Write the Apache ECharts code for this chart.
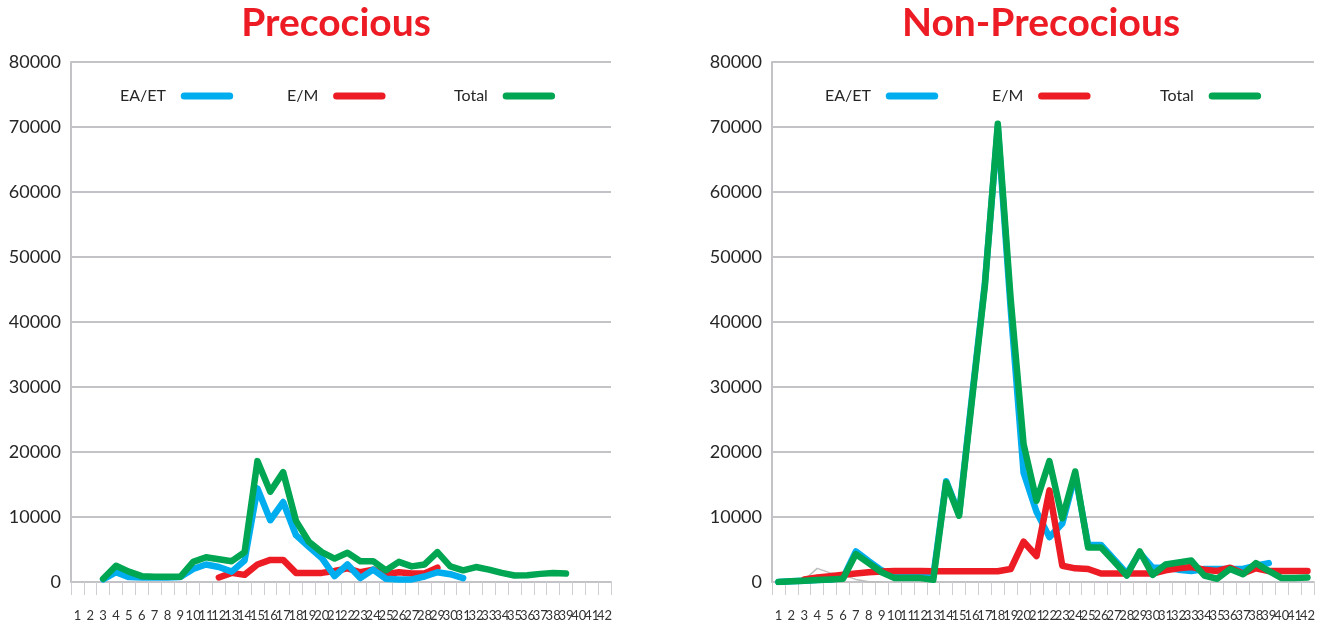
<!DOCTYPE html>
<html>
<head>
<meta charset="utf-8">
<script src="https://cdn.jsdelivr.net/npm/echarts@6/dist/echarts.min.js"></script>
<style>
html,body{margin:0;padding:0;background:#fff;}
#c{width:1318px;height:627px;}
</style>
</head>
<body>
<div id="c"></div>
<script>
const categories = ['1','2','3','4','5','6','7','8','9','10','11','12','13','14','15','16','17','18','19','20','21','22','23','24','25','26','27','28','29','30','31','32','33','34','35','36','37','38','39','40','41','42'];
const yTicks = [0,10000,20000,30000,40000,50000,60000,70000,80000];
const titles = ['Precocious','Non-Precocious'];
const seriesNames = ['EA/ET','E/M','Total'];

// Precocious
const preEAET = [null,null,400,1500,750,700,700,700,750,2000,2700,2300,1600,3300,14400,9500,12300,7200,5400,3700,900,2700,600,1900,500,400,400,850,1500,1200,600,null,null,null,null,null,null,null,null,null,null,null];
const preEM = [null,null,null,null,null,null,null,null,null,null,null,700,1400,1100,2700,3400,3400,1400,1400,1400,1700,2100,1500,1900,1200,1500,1300,1300,2200,null,null,null,null,null,null,null,null,null,null,null,null,null];
const preTotal = [null,null,500,2500,1600,900,800,800,800,3100,3800,3500,3200,4600,18600,13900,16900,9400,6200,4600,3600,4500,3200,3200,1800,3100,2400,2700,4600,2400,1800,2300,1900,1400,1000,1050,1250,1400,1300,null,null,null];

// Non-Precocious
const nonEAET = [0,100,200,300,400,600,4700,3200,1800,900,1000,1100,900,15500,10500,28500,46000,70000,42000,16800,10800,6900,9000,16500,5700,5700,3500,1300,4500,2200,2200,1900,1700,2000,2000,2000,2000,2500,2900,null,null,null];
const nonEM = [null,null,400,700,900,1100,1300,1500,1600,1700,1700,1700,1650,1650,1650,1650,1650,1650,2000,6200,4000,14100,2500,2100,2000,1300,1300,1300,1300,1300,1800,2100,2300,1900,1700,2200,1300,2100,1700,1700,1700,1700];
const nonTotal = [0,100,200,300,400,500,4300,2900,1500,600,600,600,350,15300,10200,28000,45600,70500,43500,21200,12500,18600,9800,17000,5300,5300,3200,1000,4700,1100,2700,3000,3300,1000,500,2000,1200,2900,1700,600,600,700];
const nonOther = [null,null,300,2100,1400,1100,400,50,50,null,null,null,null,null,null,null,null,null,null,null,null,null,null,null,null,null,null,null,null,null,null,null,null,null,null,null,null,null,null,null,null,null];

const BLUE = '#00AEEF', RED = '#ED1C24', GREEN = '#00A651', GRID = '#c3c3c7';
const FONT = 'Lato, "Open Sans", sans-serif';

const chart = echarts.init(document.getElementById('c'), null, {renderer: 'canvas'});

function xAxis(gi) {
  return {
    type: 'category', gridIndex: gi, data: categories, boundaryGap: true,
    axisLine: {show: true, lineStyle: {color: GRID, width: 2}},
    axisTick: {show: true, length: 13, alignWithLabel: false, lineStyle: {color: '#cfcfd3', width: 1}},
    axisLabel: {interval: 0, fontSize: 13, color: '#333', fontFamily: FONT, margin: 27, hideOverlap: false},
    splitLine: {show: false}
  };
}
function yAxis(gi) {
  return {
    type: 'value', gridIndex: gi, min: yTicks[0], max: yTicks[yTicks.length - 1], interval: yTicks[1] - yTicks[0],
    axisLine: {show: true, lineStyle: {color: GRID, width: 2}},
    axisTick: {show: false},
    axisLabel: {fontSize: 18, color: '#262626', fontFamily: FONT, margin: 10, formatter: function (v) { return String(v); }},
    splitLine: {show: true, lineStyle: {color: GRID, width: 2}}
  };
}
function line(name, data, color, gi, width) {
  return {
    name: name, type: 'line', xAxisIndex: gi, yAxisIndex: gi, data: data,
    showSymbol: false, symbol: 'none', smooth: false, silent: true,
    lineStyle: {color: color, width: width, cap: 'round', join: 'round'},
    itemStyle: {color: color}
  };
}
const pill = 'path://M4,0H56A4,4,0,0,1,56,8H4A4,4,0,0,1,4,0Z';
function legend(name, left, top) {
  return {
    data: [name], left: left, top: top, align: 'right', icon: pill,
    itemWidth: 60, itemHeight: 7, selectedMode: false,
    textStyle: {fontSize: 16, color: '#262626', fontFamily: FONT, padding: [0, 6, 5, 0]}
  };
}

chart.setOption({
  animation: false,
  backgroundColor: '#fff',
  graphic: [
    {type: 'text', x: 336, y: 23, style: {text: titles[0], fill: RED, font: 'bold 39px ' + FONT, textAlign: 'center', textVerticalAlign: 'middle'}},
    {type: 'text', x: 1041, y: 23, style: {text: titles[1], fill: RED, font: 'bold 39px ' + FONT, textAlign: 'center', textVerticalAlign: 'middle'}}
  ],
  legend: [
    legend(seriesNames[0], 115, 83), legend(seriesNames[1], 282, 83), legend(seriesNames[2], 449, 83),
    legend(seriesNames[0], 820, 83), legend(seriesNames[1], 987, 83), legend(seriesNames[2], 1155, 83)
  ],
  grid: [
    {left: 71, top: 62, width: 540, height: 520, containLabel: false},
    {left: 772, top: 62, width: 542, height: 520, containLabel: false}
  ],
  xAxis: [xAxis(0), xAxis(1)],
  yAxis: [yAxis(0), yAxis(1)],
  series: [
    line(seriesNames[1], preEM, RED, 0, 6.5),
    line(seriesNames[0], preEAET, BLUE, 0, 6.5),
    line(seriesNames[2], preTotal, GREEN, 0, 6.5),
    line('Other', nonOther, '#bdbdbd', 1, 1.5),
    line(seriesNames[0], nonEAET, BLUE, 1, 6.5),
    line(seriesNames[1], nonEM, RED, 1, 6.5),
    line(seriesNames[2], nonTotal, GREEN, 1, 6.5)
  ]
});
</script>
</body>
</html>
